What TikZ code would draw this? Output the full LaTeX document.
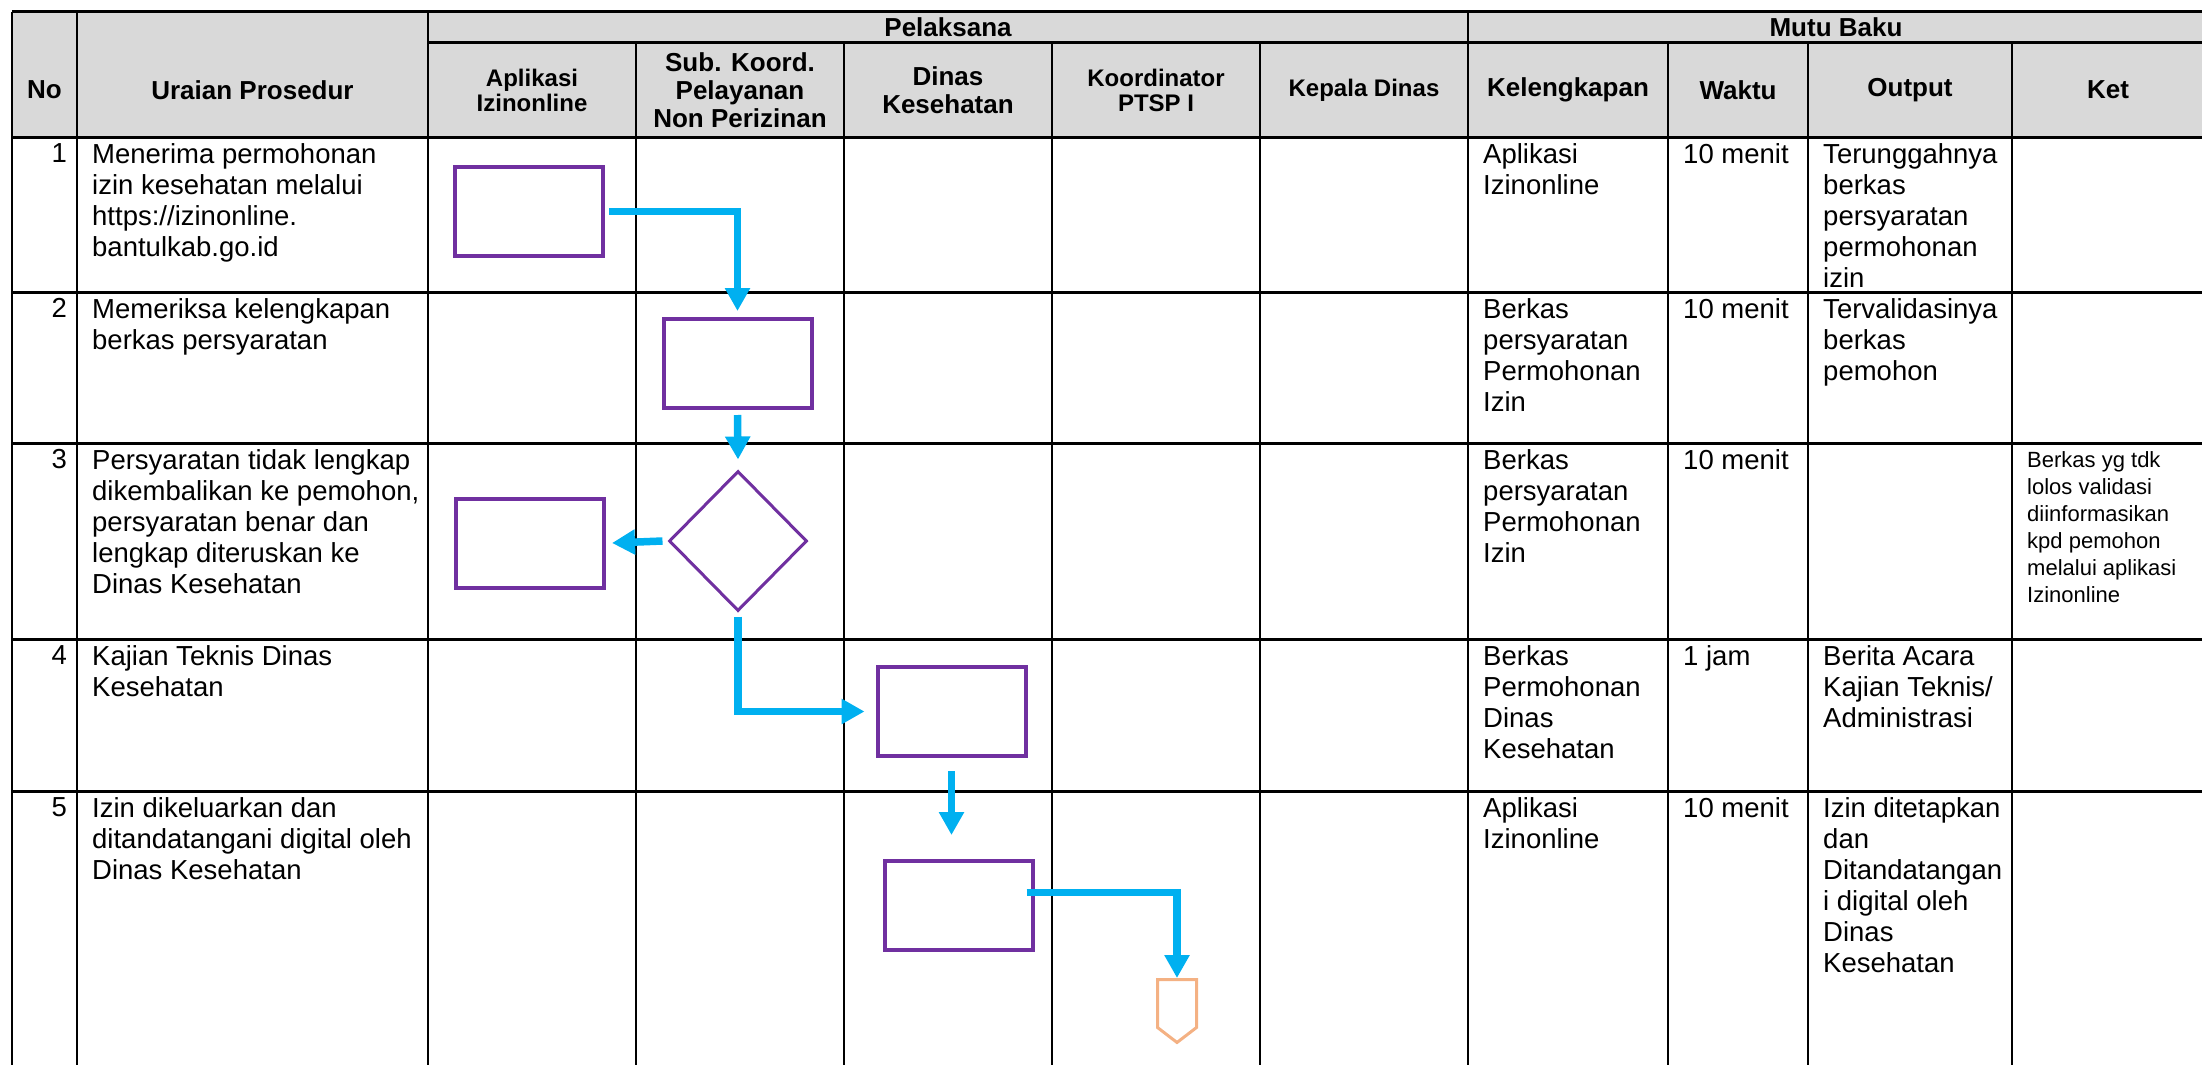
\documentclass[tikz,border=0pt]{standalone}
\usepackage{fontspec}
\setmainfont{Liberation Sans}
\usetikzlibrary{arrows.meta,shapes.geometric,shapes.symbols,calc}
\definecolor{procpurple}{HTML}{7030A0}
\definecolor{flowcyan}{HTML}{00B0F0}
\definecolor{offpage}{HTML}{F4B183}
\definecolor{headgray}{HTML}{D9D9D9}
\begin{document}
\begin{tikzpicture}[x=1pt,y=-1pt,
  hline/.style={line width=3pt},
  vline/.style={line width=2pt},
  hbig/.style={font=\bfseries\fontsize{26}{28}\selectfont,align=center,inner sep=0pt},
  hsmall/.style={font=\bfseries\fontsize{24}{25}\selectfont,align=center,inner sep=0pt},
  cell/.style={anchor=north west,inner sep=0pt,align=left,font=\fontsize{27.5}{31}\selectfont},
  note/.style={anchor=north west,inner sep=0pt,align=left,font=\fontsize{22}{27}\selectfont},
  num/.style={anchor=north east,inner sep=0pt,font=\fontsize{27.5}{31}\selectfont},
  proc/.style={draw=procpurple,line width=4pt,minimum width=148pt,minimum height=89pt,inner sep=0pt},
  flow/.style={draw=flowcyan,line width=7.5pt,-{Triangle[length=23pt,width=24pt]}}]
\useasboundingbox (0,0) rectangle (2202,1065);
\fill[headgray] (12,12) rectangle (2202,137);
\draw[hline] (12,12) -- (2202,12);
\draw[hline] (428,43) -- (2202,43);
\draw[hline] (12,137) -- (2202,137);
\draw[hline] (12,292) -- (2202,292);
\draw[hline] (12,443) -- (2202,443);
\draw[hline] (12,639) -- (2202,639);
\draw[hline] (12,791) -- (2202,791);
\draw[vline] (12,12) -- (12,1065);
\draw[vline] (77,12) -- (77,1065);
\draw[vline] (428,12) -- (428,1065);
\draw[vline] (636,43) -- (636,1065);
\draw[vline] (844,43) -- (844,1065);
\draw[vline] (1052,43) -- (1052,1065);
\draw[vline] (1260,43) -- (1260,1065);
\draw[vline] (1468,12) -- (1468,1065);
\draw[vline] (1668,43) -- (1668,1065);
\draw[vline] (1808,43) -- (1808,1065);
\draw[vline] (2012,43) -- (2012,1065);

\node[hbig] (hno) at (44.5,90) {No};
\node[hbig] (hur) at (252.5,90) {Uraian Prosedur};
\node[hbig] (hpel) at (948,27.5) {Pelaksana};
\node[hbig] (hmutu) at (1836,27.5) {Mutu Baku};
\node[hsmall] (hapl) at (532,90) {Aplikasi\\Izinonline};
\node[hbig] (hsub) at (740,90) {Sub. Koord.\\Pelayanan\\Non Perizinan};
\node[hbig] (hdin) at (948,90) {Dinas\\Kesehatan};
\node[hsmall] (hkoo) at (1156,90) {Koordinator\\PTSP I};
\node[hsmall] (hkep) at (1364,90) {Kepala Dinas};
\node[hbig] (hkel) at (1568,90) {Kelengkapan};
\node[hbig] (hwak) at (1738,90) {Waktu};
\node[hbig] (hout) at (1910,90) {Output};
\node[hbig] (hket) at (2108,90) {Ket};

\node[num] (n1) at (67,143) {1};
\node[num] (n2) at (67,298) {2};
\node[num] (n3) at (67,449) {3};
\node[num] (n4) at (67,645) {4};
\node[num] (n5) at (67,797) {5};
\node[cell] (u1) at (92,143) {Menerima permohonan\\izin kesehatan melalui\\https://izinonline.\\bantulkab.go.id};
\node[cell] (u2) at (92,298) {Memeriksa kelengkapan\\berkas persyaratan};
\node[cell] (u3) at (92,449) {Persyaratan tidak lengkap\\dikembalikan ke pemohon,\\persyaratan benar dan\\lengkap diteruskan ke\\Dinas Kesehatan};
\node[cell] (u4) at (92,645) {Kajian Teknis Dinas\\Kesehatan};
\node[cell] (u5) at (92,797) {Izin dikeluarkan dan\\ditandatangani digital oleh\\Dinas Kesehatan};

\node[cell] (k1) at (1483,143) {Aplikasi\\Izinonline};
\node[cell] (k2) at (1483,298) {Berkas\\persyaratan\\Permohonan\\Izin};
\node[cell] (k3) at (1483,449) {Berkas\\persyaratan\\Permohonan\\Izin};
\node[cell] (k4) at (1483,645) {Berkas\\Permohonan\\Dinas\\Kesehatan};
\node[cell] (k5) at (1483,797) {Aplikasi\\Izinonline};
\node[cell] (w1) at (1683,143) {10 menit};
\node[cell] (w2) at (1683,298) {10 menit};
\node[cell] (w3) at (1683,449) {10 menit};
\node[cell] (w4) at (1683,645) {1 jam};
\node[cell] (w5) at (1683,797) {10 menit};
\node[cell] (o1) at (1823,143) {Terunggahnya\\berkas\\persyaratan\\permohonan\\izin};
\node[cell] (o2) at (1823,298) {Tervalidasinya\\berkas\\pemohon};
\node[cell] (o4) at (1823,645) {Berita Acara\\Kajian Teknis/\\Administrasi};
\node[cell] (o5) at (1823,797) {Izin ditetapkan\\dan\\Ditandatangan\\i digital oleh\\Dinas\\Kesehatan};
\node[note] (ket3) at (2027,451) {Berkas yg tdk\\lolos validasi\\diinformasikan\\kpd pemohon\\melalui aplikasi\\Izinonline};

\node[proc] (p1) at (529,211.5) {};
\node[proc] (p2) at (737.5,363.5) {};
\node[diamond,draw=procpurple,line width=3pt,minimum width=138pt,minimum height=140pt,inner sep=0pt] (d3) at (738,541) {};
\node[proc] (p3) at (530,543) {};
\node[proc] (p4) at (951.5,711.5) {};
\node[proc] (p5) at (958.5,905.5) {};
\node[signal,signal to=south,signal pointer angle=105,draw=offpage,line width=3pt,minimum width=39pt,minimum height=48pt,inner sep=0pt,anchor=north] (g5) at (1177,978) {};

\draw[flow] ([xshift=4pt]p1.east) -| ([yshift=6pt]p2.north);
\draw[flow] ([yshift=-5pt]p2.south) -- ([yshift=10pt]d3.north);
\draw[flow] ([xshift=-5pt]d3.west) -- ([xshift=6pt]p3.east);
\draw[flow] ([yshift=-4pt]d3.south) |- ([xshift=-11pt]p4.west);
\draw[flow] ([yshift=-13pt]p4.south) -- ($(p4.south |- p5.north)+(0,-24)$);
\draw[flow] ([xshift=-8pt,yshift=13pt]p5.east) -| (g5.north);
\end{tikzpicture}
\end{document}
